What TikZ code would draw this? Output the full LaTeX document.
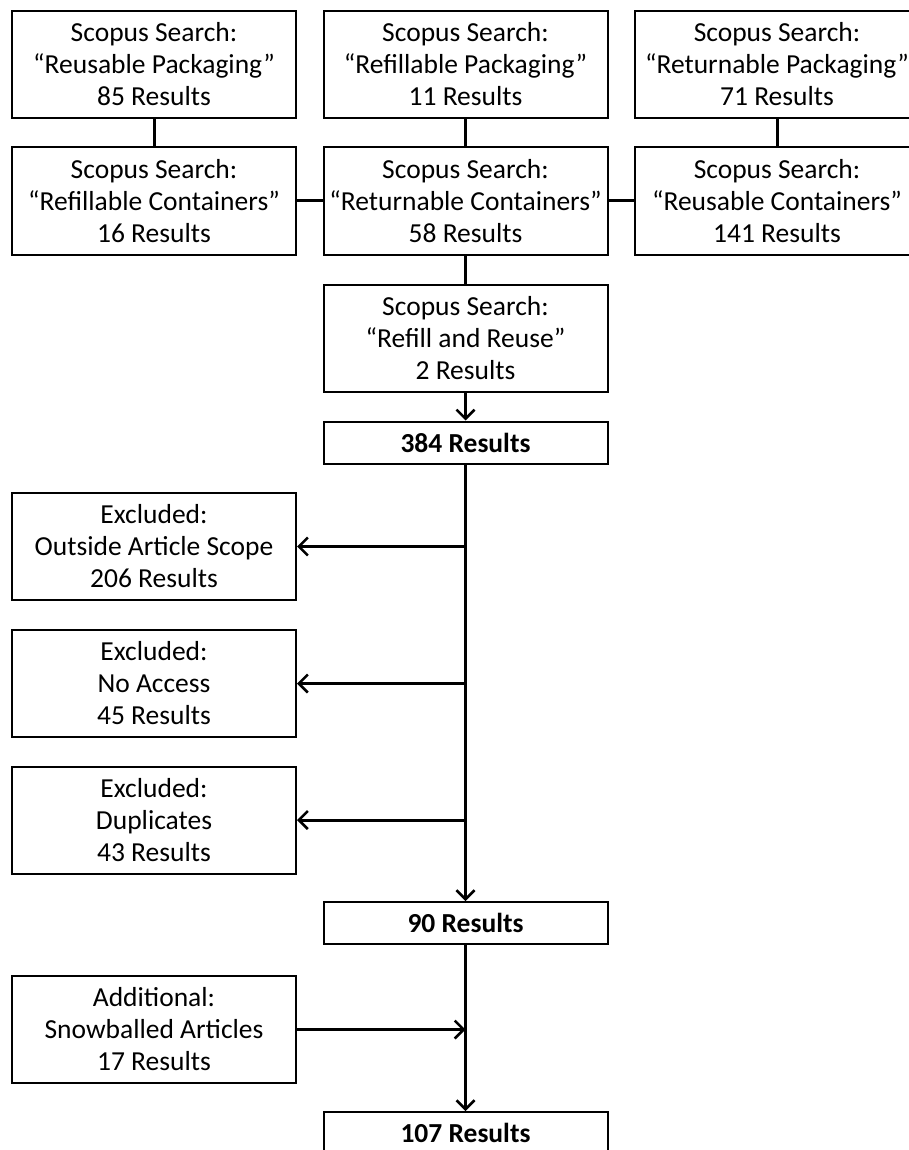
\documentclass[tikz,border=0pt]{standalone}
\usepackage{fontspec}
\setmainfont{Carlito}
\usepackage{tikz}
\usetikzlibrary{arrows.meta}
\tikzstyle{searchbox} = [draw, line width=2pt, minimum width=284pt, minimum height=107pt, inner sep=0pt, align=center, font=\fontsize{27.5}{32}\selectfont]
\tikzstyle{countbox} = [searchbox, minimum height=42pt, font=\fontsize{27.5}{32}\selectfont\bfseries]
\tikzstyle{link} = [line width=3pt]
\tikzstyle{flow} = [link, -{Straight Barb[length=9pt,width=18pt,line width=2.5pt]}]

\begin{document}
\begin{tikzpicture}[x=1pt, y=-1pt]
		\useasboundingbox (0,0) rectangle (908,1150);
		
		% search boxes
		\node[searchbox] (reusePack) at (154,64.5) {Scopus Search:\\“Reusable Packaging”\\85 Results};
		\node[searchbox] (refillPack) at (465.5,64.5) {Scopus Search:\\“Refillable Packaging”\\11 Results};
		\node[searchbox] (returnPack) at (777,64.5) {Scopus Search:\\“Returnable Packaging”\\71 Results};
		\node[searchbox] (refillCont) at (154,201) {Scopus Search:\\“Refillable Containers”\\16 Results};
		\node[searchbox] (returnCont) at (465.5,201) {Scopus Search:\\“Returnable Containers”\\58 Results};
		\node[searchbox] (reuseCont) at (777,201) {Scopus Search:\\“Reusable Containers”\\141 Results};
		\node[searchbox] (refillReuse) at (465.5,338) {Scopus Search:\\“Refill and Reuse”\\2 Results};
		
		% counts and exclusions
		\node[countbox] (res384) at (465.5,442.5) {384 Results};
		\node[searchbox] (exScope) at (154,546.5) {Excluded:\\Outside Article Scope\\206 Results};
		\node[searchbox] (exAccess) at (154,683.5) {Excluded:\\No Access\\45 Results};
		\node[searchbox] (exDup) at (154,820) {Excluded:\\Duplicates\\43 Results};
		\node[countbox] (res90) at (465.5,923) {90 Results};
		\node[searchbox] (snowball) at (154,1029.5) {Additional:\\Snowballed Articles\\17 Results};
		\node[countbox] (res107) at (465.5,1133) {107 Results};
		
		\draw[link] (reusePack) -- (refillCont);
		\draw[link] (refillPack) -- (returnCont);
		\draw[link] (returnPack) -- (reuseCont);
		\draw[link] (refillCont) -- (returnCont);
		\draw[link] (returnCont) -- (reuseCont);
		\draw[link] (returnCont) -- (refillReuse);
		\draw[flow] (refillReuse) -- (res384);
		\draw[flow] (res384) -- (res90);
		\draw[flow] (res384.south |- exScope) -- (exScope);
		\draw[flow] (res384.south |- exAccess) -- (exAccess);
		\draw[flow] (res384.south |- exDup) -- (exDup);
		\draw[flow] (snowball) -- (snowball -| res90.south);
		\draw[flow] (res90) -- (res107);
	\end{tikzpicture}
\end{document}
